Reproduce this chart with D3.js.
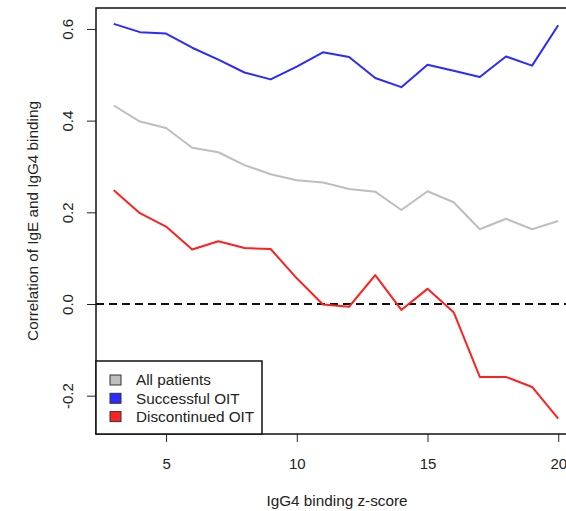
<!DOCTYPE html>
<meta charset="utf-8">
<title>Correlation of IgE and IgG4 binding</title>
<script src="https://cdn.jsdelivr.net/npm/d3@7"></script>
<style>
body { margin: 0; background: #fff; }
svg { display: block; font-family: "Liberation Sans", Arial, Helvetica, sans-serif; }
.axis text { font-size: 15px; fill: #222; }
.axis path, .axis line { stroke: #222; }
</style>
<svg width="566" height="511"></svg>
<script>

var zscores = [3, 4, 5, 6, 7, 8, 9, 10, 11, 12, 13, 14, 15, 16, 17, 18, 19, 20];

var allPatients = [0.433, 0.398, 0.384, 0.341, 0.331, 0.303, 0.283, 0.270, 0.265, 0.251, 0.245, 0.205, 0.246, 0.222, 0.163, 0.186, 0.163, 0.181];
var successful  = [0.611, 0.593, 0.590, 0.559, 0.533, 0.505, 0.490, 0.518, 0.549, 0.539, 0.493, 0.473, 0.522, 0.509, 0.495, 0.540, 0.520, 0.608];
var discontinued = [0.248, 0.198, 0.169, 0.119, 0.137, 0.122, 0.120, 0.056, -0.001, -0.006, 0.063, -0.013, 0.033, -0.018, -0.159, -0.159, -0.181, -0.250];

var xTicks = [5, 10, 15, 20];
var yTicks = [-0.2, 0.0, 0.2, 0.4, 0.6];

var series = [
  {name: "All patients", values: allPatients, color: "#bebebe"},
  {name: "Successful OIT", values: successful, color: "#2b2bff"},
  {name: "Discontinued OIT", values: discontinued, color: "#ff2020"}
];

var svg = d3.select("svg"),
    plotL = 96, plotR = 576, plotT = 8, plotB = 434;

// R style: 4% padding around data range
var x = d3.scaleLinear().domain([2.32, 20.68]).range([plotL, plotR]),
    y = d3.scaleLinear().domain([-0.2836, 0.6457]).range([plotB, plotT]);

// zero reference line
svg.append("line")
    .attr("x1", plotL).attr("x2", plotR)
    .attr("y1", y(0)).attr("y2", y(0))
    .attr("stroke", "#111")
    .attr("stroke-width", 2)
    .attr("stroke-dasharray", "8,5");

var line = d3.line()
    .x(function(d, i) { return x(zscores[i]); })
    .y(function(d) { return y(d); });

svg.selectAll(".series")
  .data(series)
  .enter().append("path")
    .attr("class", "series")
    .attr("fill", "none")
    .attr("stroke", function(d) { return d.color; })
    .attr("stroke-width", 2)
    .attr("stroke-linejoin", "round")
    .attr("d", function(d) { return line(d.values); });

// axes
svg.append("g")
    .attr("class", "axis")
    .attr("transform", "translate(0," + plotB + ")")
    .call(d3.axisBottom(x).tickValues(xTicks).tickSize(8).tickPadding(16).tickFormat(d3.format("d")))
    .call(function(g) { g.select(".domain").remove(); });

var yAxis = svg.append("g")
    .attr("class", "axis")
    .attr("transform", "translate(" + plotL + ",0)")
    .call(d3.axisLeft(y).tickValues(yTicks).tickSize(9)
      .tickFormat(function(d) { return d.toFixed(1); }))
    .call(function(g) { g.select(".domain").remove(); });

yAxis.selectAll(".tick text")
    .attr("transform", "rotate(-90)")
    .attr("x", 0)
    .attr("y", -28)
    .attr("dy", "0.35em")
    .attr("text-anchor", "middle");

// plot box
svg.append("rect")
    .attr("x", plotL).attr("y", plotT)
    .attr("width", plotR - plotL).attr("height", plotB - plotT)
    .attr("fill", "none")
    .attr("stroke", "#111")
    .attr("stroke-width", 1.5);

// axis titles
svg.append("text")
    .attr("x", 337)
    .attr("y", 506)
    .attr("text-anchor", "middle")
    .style("font-size", "15.3px")
    .style("fill", "#222")
    .text("IgG4 binding z-score");

svg.append("text")
    .attr("transform", "translate(38," + ((plotT + plotB) / 2) + ") rotate(-90)")
    .attr("text-anchor", "middle")
    .style("font-size", "15.3px")
    .style("fill", "#222")
    .text("Correlation of IgE and IgG4 binding");

// legend
var legend = svg.append("g");
legend.append("rect")
    .attr("x", plotL).attr("y", 361)
    .attr("width", 166).attr("height", plotB - 361)
    .attr("fill", "#fff")
    .attr("stroke", "#111")
    .attr("stroke-width", 1.5);

var item = legend.selectAll(".item")
  .data(series)
  .enter().append("g")
    .attr("transform", function(d, i) { return "translate(110," + (380 + i * 18.3) + ")"; });

item.append("rect")
    .attr("x", 0).attr("y", -5)
    .attr("width", 11).attr("height", 10)
    .attr("fill", function(d) { return d.color; })
    .attr("stroke", "#333");

item.append("text")
    .attr("x", 26)
    .attr("dy", "0.35em")
    .style("font-size", "15.3px")
    .style("fill", "#222")
    .text(function(d) { return d.name; });

</script>
</html>
